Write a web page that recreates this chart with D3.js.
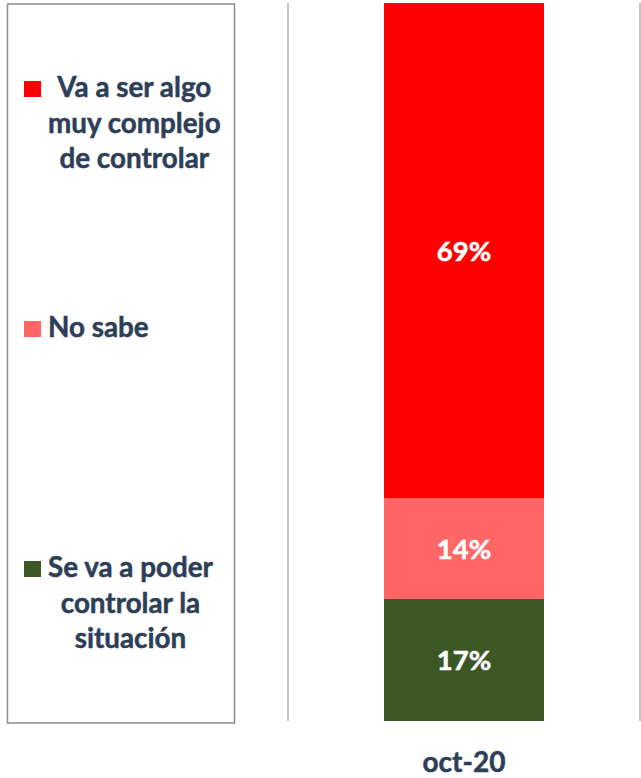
<!DOCTYPE html>
<html><head><meta charset="utf-8">
<script src="https://cdn.jsdelivr.net/npm/d3@7"></script>
<style>html,body{margin:0;padding:0;background:#fff;}svg{display:block;}</style>
</head><body>
<script>
const categories = ["oct-20"];
const seriesNames = ["Se va a poder controlar la situación", "No sabe", "Va a ser algo muy complejo de controlar"];
const seriesValues = [[17], [14], [69]];
const seriesColors = ["#3B5725", "#FF6666", "#FF0000"];
const legendLines = [["Va a ser algo", "muy complejo", "de controlar"], ["No sabe"], ["Se va a poder", "controlar la", "situación"]];
const legendColors = ["#FF0000", "#FF6666", "#3B5725"];
const legendBaseY = [97, 337, 577];

const W = 641, H = 778;
const textColor = "#2D3E57";
const font = "Lato, 'Open Sans', sans-serif";
const svg = d3.select("body").append("svg").attr("width", W).attr("height", H);

const x = d3.scaleBand().domain(categories).range([288, 640]).padding(0.375);
const y = d3.scaleLinear().domain([0, 100]).range([721, 3]);

// category separators
svg.append("g").selectAll("line").data([288, 640]).join("line")
  .attr("x1", d => d).attr("x2", d => d).attr("y1", y(100)).attr("y2", y(0))
  .attr("stroke", "#a6a6a6").attr("stroke-width", 1.3);

// stacked data
const rows = categories.map((c, i) => {
  const o = {cat: c};
  seriesNames.forEach((s, j) => o[s] = seriesValues[j][i]);
  return o;
});
const stacked = d3.stack().keys(seriesNames)(rows);

const g = svg.append("g");
stacked.forEach((layer, j) => {
  g.selectAll(null).data(layer).join("rect")
    .attr("x", d => x(d.data.cat)).attr("width", x.bandwidth())
    .attr("y", d => y(d[1])).attr("height", d => y(d[0]) - y(d[1]))
    .attr("fill", seriesColors[j]);
  g.selectAll(null).data(layer).join("text")
    .attr("x", d => x(d.data.cat) + x.bandwidth() / 2)
    .attr("y", d => (y(d[0]) + y(d[1])) / 2 + 10)
    .attr("text-anchor", "middle").attr("fill", "#fff")
    .attr("stroke", "#fff").attr("stroke-width", 0.5)
    .attr("font-family", font).attr("font-weight", "bold").attr("font-size", 27.5)
    .text(d => (d[1] - d[0]) + "%");
});

// x axis label
svg.append("g").selectAll("text").data(categories).join("text")
  .attr("x", d => x(d) + x.bandwidth() / 2).attr("y", 772)
  .attr("text-anchor", "middle").attr("fill", textColor)
  .attr("stroke", textColor).attr("stroke-width", 0.5)
  .attr("font-family", font).attr("font-weight", "bold").attr("font-size", 28)
  .text(d => d);

// legend box
svg.append("rect").attr("x", 7.5).attr("y", 4).attr("width", 227).attr("height", 719)
  .attr("fill", "#fff").attr("stroke", "#8c8c8c").attr("stroke-width", 1.5);

legendLines.forEach((lines, i) => {
  const by = legendBaseY[i];
  svg.append("rect").attr("x", 24).attr("y", by - 16).attr("width", 17).attr("height", 16)
    .attr("fill", legendColors[i]);
  const t = svg.append("g");
  const texts = t.selectAll("text").data(lines).join("text")
    .attr("y", (d, k) => by + k * 35.5)
    .attr("fill", textColor).attr("stroke", textColor).attr("stroke-width", 0.5)
    .attr("font-family", font).attr("font-weight", "bold").attr("font-size", 27.8)
    .attr("text-anchor", "middle").text(d => d);
  let maxW = 0;
  texts.each(function() { maxW = Math.max(maxW, this.getComputedTextLength()); });
  texts.attr("x", 48 + maxW / 2);
});
</script>
</body></html>
